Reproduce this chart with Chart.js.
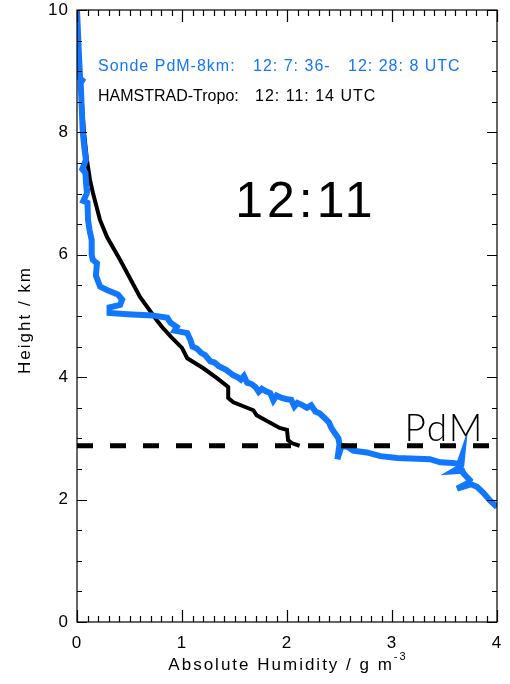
<!DOCTYPE html>
<html>
<head>
<meta charset="utf-8">
<title>Absolute Humidity profile 12:11</title>
<script src="https://cdn.jsdelivr.net/npm/chart.js@4.4.1/dist/chart.umd.min.js"></script>
<style>
    html, body { margin: 0; padding: 0; background: #ffffff; }
    #wrap { width: 510px; height: 684px; position: relative; }
</style>
</head>
<body>
<div id="wrap"><canvas id="humidityChart" width="510" height="684"></canvas></div>
<script>
// Chart data

// Sonde PdM-8km profile: absolute humidity (g/m3) and height (km)
const sondeHumidity = [0.00, 0.01, 0.02, 0.03, 0.05, 0.035, 0.045, 0.055, 0.07, 0.085, 0.05, 0.08, 0.09, 0.095, 0.06, 0.10,
    0.105, 0.12, 0.14, 0.14, 0.15, 0.19, 0.18, 0.22, 0.29, 0.39, 0.43, 0.41, 0.31, 0.31, 0.48, 0.72, 0.86, 0.89, 0.95, 0.93,
    1.05, 1.08, 1.10, 1.14, 1.18, 1.22, 1.27, 1.31, 1.35, 1.42, 1.49, 1.53, 1.56, 1.59, 1.62, 1.66, 1.70, 1.73, 1.76, 1.80,
    1.84, 1.87, 1.90, 1.95, 2.00, 2.04, 2.07, 2.10, 2.15, 2.19, 2.23, 2.27, 2.31, 2.36, 2.40, 2.42, 2.45, 2.49, 2.50, 2.48,
    2.52, 2.58, 2.63, 2.76, 2.89, 3.05, 3.36, 3.46, 3.58, 3.64, 3.67, 3.66, 3.65, 3.58, 3.67, 3.68, 3.74, 3.72, 3.62, 3.75,
    3.81, 3.87, 3.93, 4.00];
const sondeHeight = [10.0, 9.6, 9.2, 8.88, 8.85, 8.81, 8.4, 8.0, 7.75, 7.55, 7.40, 7.34, 7.10, 7.01, 6.88, 6.85,
    6.57, 6.40, 6.24, 6.00, 5.92, 5.86, 5.66, 5.48, 5.42, 5.35, 5.27, 5.18, 5.14, 5.05, 5.03, 5.01, 4.97, 4.89, 4.82, 4.76,
    4.72, 4.61, 4.50, 4.47, 4.40, 4.36, 4.26, 4.24, 4.18, 4.12, 4.03, 4.00, 3.96, 4.02, 3.91, 3.89, 3.84, 3.76, 3.81, 3.77,
    3.74, 3.62, 3.70, 3.66, 3.64, 3.63, 3.52, 3.58, 3.54, 3.50, 3.54, 3.44, 3.41, 3.33, 3.26, 3.18, 3.10, 3.00, 2.90, 2.66,
    2.88, 2.86, 2.80, 2.77, 2.71, 2.68, 2.66, 2.61, 2.60, 2.58, 2.73, 2.56, 2.53, 2.46, 2.47, 2.43, 2.32, 2.27, 2.18, 2.25,
    2.21, 2.11, 1.99, 1.88];

// HAMSTRAD-Tropo profile
const hamstradHumidity = [0.00, 0.01, 0.03, 0.067, 0.095, 0.124, 0.152, 0.219, 0.286, 0.41, 0.60, 0.76, 0.81, 0.90,
    1.00, 1.05, 1.20, 1.33, 1.44, 1.44, 1.49, 1.68, 1.71, 1.93, 2.00, 2.01, 2.05, 2.12];
const hamstradHeight = [10.0, 9.5, 8.86, 8.0, 7.55, 7.22, 7.01, 6.57, 6.29, 5.92, 5.31, 4.93, 4.82, 4.65,
    4.48, 4.31, 4.15, 3.99, 3.84, 3.66, 3.59, 3.46, 3.38, 3.17, 3.14, 2.97, 2.92, 2.88];

// PdM altitude line
const pdmHumidity = [0, 4];
const pdmHeight = [2.88, 2.88];

// Axis tick labels
const xTickValues = [0, 1, 2, 3, 4];
const yTickValues = [0, 2, 4, 6, 8, 10];

// Texts
const xTitle = 'Absolute Humidity / g m';
const xTitleExp = '-3';
const yTitle = 'Height / km';
const sondeLabel = ['Sonde PdM-8km:', '12: 7: 36-', '12: 28: 8 UTC'];
const hamstradLabel = ['HAMSTRAD-Tropo:', '12: 11: 14 UTC'];
const timeLabel = '12:11';
const siteLabel = 'PdM';

const sondeColor = '#1177ff';
const mainFont = "'Liberation Sans', Arial, sans-serif";

// Build x/y point objects from two arrays
function toPoints(xs, ys) {
    return xs.map((x, i) => ({ x: x, y: ys[i] }));
}

// Inward ticks, box, tick labels, titles and in-plot texts
const framePlugin = {
    id: 'frame',
    afterDatasetsDraw(chart) {
        const ctx = chart.ctx;
        const area = chart.chartArea;
        const xs = chart.scales.x;
        const ys = chart.scales.y;

        ctx.save();
        ctx.strokeStyle = '#000';
        ctx.lineWidth = 1.2;

        // box
        ctx.strokeRect(area.left, area.top, area.right - area.left, area.bottom - area.top);

        // x ticks every 0.1, long at integers
        ctx.beginPath();
        for (let i = 0; i <= 40; i++) {
            const px = Math.round(xs.getPixelForValue(i / 10)) + 0.5;
            const len = (i % 10 === 0) ? 12 : 6;
            ctx.moveTo(px, area.bottom);
            ctx.lineTo(px, area.bottom - len);
            ctx.moveTo(px, area.top);
            ctx.lineTo(px, area.top + len);
        }
        // y ticks every 0.5, long at even km
        for (let j = 0; j <= 20; j++) {
            const py = Math.round(ys.getPixelForValue(j / 2)) + 0.5;
            const len = (j % 4 === 0) ? 10 : 5;
            ctx.moveTo(area.left, py);
            ctx.lineTo(area.left + len, py);
            ctx.moveTo(area.right, py);
            ctx.lineTo(area.right - len, py);
        }
        ctx.stroke();

        ctx.fillStyle = '#000';
        ctx.letterSpacing = '1px';

        // tick labels
        ctx.font = '17px ' + mainFont;
        ctx.textBaseline = 'middle';
        ctx.textAlign = 'center';
        xTickValues.forEach(v => {
            ctx.fillText(String(v), xs.getPixelForValue(v), area.bottom + 21);
        });
        ctx.textAlign = 'right';
        yTickValues.forEach(v => {
            ctx.fillText(String(v), area.left - 8, ys.getPixelForValue(v));
        });

        // axis titles
        ctx.letterSpacing = '2px';
        ctx.font = '17px ' + mainFont;
        ctx.textAlign = 'left';
        const xw = ctx.measureText(xTitle).width;
        ctx.font = '11px ' + mainFont;
        const ew = ctx.measureText(xTitleExp).width;
        const x0 = 288 - (xw + ew) / 2;
        ctx.font = '17px ' + mainFont;
        ctx.fillText(xTitle, x0, 665);
        ctx.font = '11px ' + mainFont;
        ctx.fillText(xTitleExp, x0 + xw, 657);

        ctx.save();
        ctx.translate(25, 320);
        ctx.rotate(-Math.PI / 2);
        ctx.textAlign = 'center';
        ctx.font = '17px ' + mainFont;
        ctx.fillText(yTitle, 0, 0);
        ctx.restore();

        // legend texts
        ctx.letterSpacing = '1px';
        ctx.textAlign = 'left';
        ctx.font = '16px ' + mainFont;
        ctx.fillStyle = sondeColor;
        const rowSonde = ys.getPixelForValue(9.07);
        ctx.fillText(sondeLabel[0], 98, rowSonde);
        ctx.fillText(sondeLabel[1], 253, rowSonde);
        ctx.fillText(sondeLabel[2], 348, rowSonde);
        ctx.fillStyle = '#000';
        const rowHam = ys.getPixelForValue(8.58);
        ctx.letterSpacing = '0px';
        ctx.fillText(hamstradLabel[0], 98, rowHam);
        ctx.letterSpacing = '1px';
        ctx.fillText(hamstradLabel[1], 255, rowHam);

        // big time label
        ctx.letterSpacing = '4px';
        ctx.textAlign = 'center';
        ctx.font = '50px ' + mainFont;
        ctx.fillText(timeLabel, xs.getPixelForValue(2.18), ys.getPixelForValue(6.85));

        // site label
        ctx.letterSpacing = '2px';
        ctx.textBaseline = 'alphabetic';
        ctx.font = "300 37px Lato, 'Open Sans', sans-serif";
        ctx.fillText(siteLabel, xs.getPixelForValue(3.50), ys.getPixelForValue(2.96));

        ctx.restore();
    }
};

const ctx = document.getElementById('humidityChart').getContext('2d');
const humidityChart = new Chart(ctx, {
    type: 'scatter',
    data: {
        datasets: [
            {
                label: 'HAMSTRAD-Tropo',
                data: toPoints(hamstradHumidity, hamstradHeight),
                showLine: true,
                borderColor: '#000000',
                borderWidth: 4,
                pointRadius: 0,
                tension: 0,
                order: 3
            },
            {
                label: 'Sonde PdM-8km',
                data: toPoints(sondeHumidity, sondeHeight),
                showLine: true,
                borderColor: sondeColor,
                borderWidth: 6,
                borderJoinStyle: 'miter',
                pointRadius: 0,
                tension: 0,
                order: 2
            },
            {
                label: 'PdM',
                data: toPoints(pdmHumidity, pdmHeight),
                showLine: true,
                borderColor: '#000000',
                borderWidth: 5,
                borderDash: [16, 17],
                pointRadius: 0,
                order: 1
            }
        ]
    },
    options: {
        responsive: false,
        animation: false,
        layout: {
            padding: { top: 10, right: 13, left: 77, bottom: 62 }
        },
        plugins: {
            legend: { display: false },
            tooltip: { enabled: false }
        },
        scales: {
            x: {
                type: 'linear',
                min: 0,
                max: 4,
                grid: { display: false, drawTicks: false },
                border: { display: false },
                ticks: { display: false },
                title: { display: false }
            },
            y: {
                type: 'linear',
                min: 0,
                max: 10,
                grid: { display: false, drawTicks: false },
                border: { display: false },
                ticks: { display: false },
                title: { display: false }
            }
        }
    },
    plugins: [framePlugin]
});
</script>
</body>
</html>
